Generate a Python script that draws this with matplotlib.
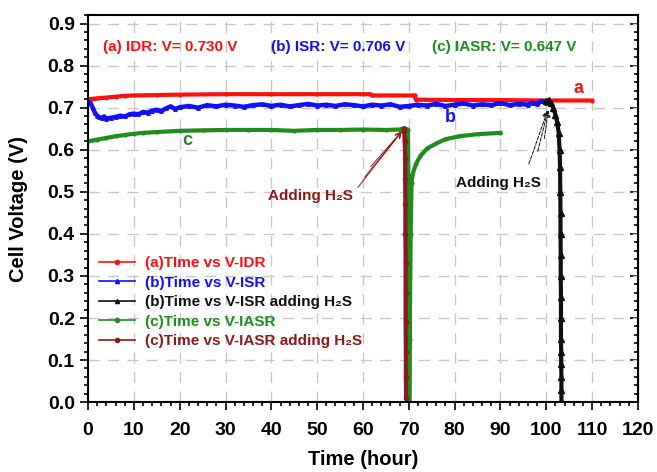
import matplotlib
matplotlib.use("Agg")
import matplotlib.pyplot as plt
from matplotlib.ticker import MultipleLocator

plt.rcParams['font.family'] = ['Liberation Sans', 'DejaVu Sans']
plt.rcParams['font.weight'] = 'bold'

# (a) IDR
t_a = [0, 1, 2, 4, 6, 8, 10, 15, 20, 30, 40, 50, 60, 61.5, 62, 71.3, 71.5, 80, 90, 100, 110]
v_a = [0.720, 0.721, 0.722, 0.724, 0.726, 0.728, 0.729, 0.730, 0.731, 0.732, 0.732, 0.732,
       0.732, 0.732, 0.729, 0.729, 0.719, 0.718, 0.718, 0.717, 0.717]

# (b) ISR
t_b = [0, 0.5, 1, 1.5, 2, 2.5, 3, 3.5, 4, 5, 6, 7, 8, 9, 10, 11, 12, 13, 14, 15, 16, 17,
       18, 19, 20, 22, 24, 26, 28, 30, 32, 34, 36, 38, 40, 42, 44, 46, 48, 50, 52, 54, 56,
       58, 60, 62, 64, 66, 68, 70, 72, 74, 76, 78, 80, 82, 84, 86, 88, 90, 92, 94, 96, 97,
       98, 99, 100]
v_b = [0.715, 0.712, 0.700, 0.688, 0.681, 0.677, 0.675, 0.679, 0.674, 0.676, 0.678, 0.681,
       0.679, 0.684, 0.686, 0.684, 0.690, 0.688, 0.693, 0.695, 0.692, 0.698, 0.703, 0.697,
       0.701, 0.704, 0.700, 0.706, 0.703, 0.707, 0.705, 0.702, 0.706, 0.708, 0.704, 0.707,
       0.703, 0.706, 0.709, 0.705, 0.707, 0.704, 0.708, 0.706, 0.703, 0.707, 0.705, 0.708,
       0.702, 0.704, 0.707, 0.705, 0.709, 0.704, 0.707, 0.710, 0.705, 0.708, 0.706, 0.711,
       0.706, 0.709, 0.707, 0.712, 0.708, 0.716, 0.712]

# (b) ISR adding H2S
t_b2 = [100, 100.5, 101, 101.5, 102, 102.4, 102.7, 102.9, 103.0, 103.05, 103.1, 103.1,
        103.15, 103.15, 103.2, 103.2, 103.2, 103.25, 103.25, 103.3, 103.3, 103.3]
v_b2 = [0.715, 0.718, 0.712, 0.700, 0.683, 0.665, 0.640, 0.600, 0.560, 0.500, 0.450, 0.400,
        0.350, 0.300, 0.250, 0.200, 0.150, 0.120, 0.090, 0.060, 0.030, 0.000]

# (c) IASR
t_c = [0, 1, 2, 4, 6, 8, 10, 12, 15, 20, 25, 30, 35, 40, 45, 50, 55, 60, 65, 68, 69, 69.8,
       70.0, 70.1, 70.2, 70.4, 70.6, 70.8, 71.5, 72.5, 74, 76, 78, 81, 85, 90]
v_c = [0.620, 0.622, 0.624, 0.628, 0.632, 0.635, 0.638, 0.640, 0.642, 0.645, 0.646, 0.647,
       0.647, 0.647, 0.645, 0.647, 0.647, 0.648, 0.647, 0.648, 0.651, 0.648,
       0.400, 0.000, 0.150, 0.400, 0.520, 0.540, 0.565, 0.585, 0.603, 0.615, 0.625, 0.632,
       0.637, 0.640]

# (c) IASR adding H2S
t_c2 = [68.9, 69.0, 69.1, 69.2, 69.2, 69.25, 69.25, 69.3, 69.3, 69.3, 69.35, 69.35, 69.4]
v_c2 = [0.650, 0.645, 0.620, 0.580, 0.530, 0.470, 0.400, 0.330, 0.260, 0.190, 0.120, 0.060,
        0.010]

red, blue, black, green, brown = '#ff1010', '#1010ff', '#101010', '#1e8c1e', '#8b1a1a'

fig = plt.figure(figsize=(6.57, 4.72), dpi=100)
ax = fig.add_axes([0.134, 0.148, 0.837, 0.82])

ax.plot(t_a, v_a, '-', color=red, lw=3, marker='o', ms=2, label='(a)TIme vs V-IDR')
ax.plot(t_b, v_b, '-', color=blue, lw=3.2, marker='^', ms=2.5, label='(b)Time vs V-ISR')
ax.plot(t_b2, v_b2, '-', color=black, lw=3, marker='^', ms=4,
        label='(b)Time vs V-ISR adding H\u2082S')
ax.plot(t_c, v_c, '-', color=green, lw=3, marker='o', ms=2, label='(c)Time vs V-IASR')
ax.plot(t_c2, v_c2, '-', color=brown, lw=3, marker='o', ms=3,
        label='(c)Time vs V-IASR adding H\u2082S')

ax.set_xlim(0, 120)
ax.set_ylim(0, 0.92)
ax.xaxis.set_major_locator(MultipleLocator(10))
ax.xaxis.set_minor_locator(MultipleLocator(2))
ax.yaxis.set_major_locator(MultipleLocator(0.1))
ax.yaxis.set_minor_locator(MultipleLocator(0.02))
ax.yaxis.set_major_formatter(plt.FormatStrFormatter('%.1f'))
ax.tick_params(which='both', direction='out', top=False, right=False, width=1.2)
ax.tick_params(which='major', length=6, labelsize=14)
ax.tick_params(axis='x', which='major', pad=8)
ax.tick_params(which='minor', length=3)
sec = ax.secondary_yaxis('right')
sec.yaxis.set_major_locator(MultipleLocator(0.1))
sec.yaxis.set_minor_locator(MultipleLocator(0.02))
sec.tick_params(which='both', direction='in', labelright=False, width=1.2)
sec.tick_params(which='major', length=6)
sec.tick_params(which='minor', length=3)
for s in ax.spines.values():
    s.set_linewidth(1.5)

ax.grid(True, color='#c8c8c8', linestyle=(0, (8, 6)), linewidth=1)
ax.set_axisbelow(True)

ax.set_xlabel('Time (hour)', fontsize=14.5, fontweight='bold', labelpad=8)
ax.set_ylabel('Cell Voltage (V)', fontsize=14.5, fontweight='bold', labelpad=14)

ax.text(3.2, 0.845, '(a) IDR: V= 0.730 V', color=red, fontsize=11, va='center')
ax.text(40, 0.845, '(b) ISR: V= 0.706 V', color=blue, fontsize=11, va='center')
ax.text(75, 0.845, '(c) IASR: V= 0.647 V', color=green, fontsize=11, va='center')
ax.text(107, 0.745, 'a', color=red, fontsize=13, ha='center', va='center')
ax.text(79, 0.677, 'b', color=blue, fontsize=13, ha='center', va='center')
ax.text(21.7, 0.622, 'c', color=green, fontsize=13, ha='center', va='center')

ax.text(48.5, 0.49, 'Adding H\u2082S', color=brown, fontsize=11, ha='center', va='center')
for dx, dy in [(0, 0), (1.5, 0.025), (2.8, 0.05)]:
    ax.annotate('', xy=(68.8, 0.648), xytext=(58.5 + dx, 0.505 + dy),
                arrowprops=dict(arrowstyle='->', color=brown, lw=0.7))

ax.text(89.5, 0.522, 'Adding H\u2082S', color=black, fontsize=11, ha='center', va='center')
for dx, dy in [(0, 0), (2.0, 0.03), (3.5, 0.06)]:
    ax.annotate('', xy=(100.5, 0.70), xytext=(96 + dx, 0.56 + dy),
                arrowprops=dict(arrowstyle='->', color=black, lw=0.7, linestyle='--'))

leg = ax.legend(loc='upper left', bbox_to_anchor=(0.0, 0.405), frameon=False,
                fontsize=11, handlelength=2.4, labelspacing=0.36, borderaxespad=0.3,
                handletextpad=0.6)
for h in leg.legend_handles:
    h.set_linewidth(1.2)
    h.set_markersize(3)
for txt, c in zip(leg.get_texts(), [red, blue, black, green, brown]):
    txt.set_color(c)

fig.savefig('out.png', dpi=100)
